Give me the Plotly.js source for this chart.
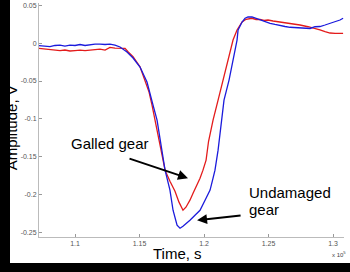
<!DOCTYPE html>
<html>
<head>
<meta charset="utf-8">
<script src="https://cdn.plot.ly/plotly-3.0.1.min.js"></script>
<style>
html,body{margin:0;padding:0;background:#000;width:350px;height:272px;overflow:hidden;}
#chart{position:absolute;left:10px;top:0;width:340px;height:263px;background:#fff;}
</style>
</head>
<body>
<div id="chart"></div>
<script>
// Time (x 10^5 s) and amplitude (V)
var undamagedTime = [1.0721,1.0767,1.0806,1.0845,1.0884,1.0922,1.0961,1.1000,1.1039,1.1078,1.1116,1.1155,1.1194,1.1233,1.1271,1.1310,1.1349,1.1403,1.1450,1.1504,1.1558,1.1581,1.1605,1.1636,1.1659,1.1682,1.1698,1.1736,1.1760,1.1791,1.1814,1.1837,1.1868,1.1891,1.1930,1.1969,1.2008,1.2047,1.2070,1.2085,1.2109,1.2124,1.2140,1.2155,1.2194,1.2225,1.2256,1.2264,1.2295,1.2318,1.2341,1.2372,1.2403,1.2434,1.2473,1.2512,1.2550,1.2589,1.2628,1.2667,1.2705,1.2744,1.2783,1.2822,1.2860,1.2899,1.2938,1.2977,1.3016,1.3054,1.3078];
var undamagedAmp = [-0.0033,-0.0044,-0.0046,-0.0030,-0.0024,-0.0037,-0.0024,-0.0030,-0.0017,-0.0030,-0.0017,-0.0011,-0.0011,-0.0017,-0.0011,-0.0024,-0.0050,-0.0117,-0.0196,-0.0315,-0.0514,-0.0646,-0.0818,-0.1017,-0.1282,-0.1507,-0.1679,-0.1943,-0.2209,-0.2408,-0.2447,-0.2421,-0.2381,-0.2341,-0.2275,-0.2209,-0.2076,-0.1943,-0.1785,-0.1679,-0.1414,-0.1215,-0.1017,-0.0752,-0.0487,-0.0222,0.0042,0.0175,0.0281,0.0330,0.0347,0.0347,0.0327,0.0307,0.0287,0.0263,0.0248,0.0232,0.0221,0.0211,0.0208,0.0197,0.0201,0.0195,0.0218,0.0221,0.0241,0.0261,0.0285,0.0307,0.0330];

var galledTime = [1.0721,1.0767,1.0806,1.0845,1.0884,1.0922,1.0961,1.1000,1.1039,1.1078,1.1116,1.1155,1.1194,1.1233,1.1271,1.1310,1.1349,1.1388,1.1411,1.1450,1.1504,1.1550,1.1574,1.1597,1.1620,1.1651,1.1682,1.1698,1.1736,1.1775,1.1806,1.1837,1.1860,1.1891,1.1915,1.1946,1.1969,1.1992,1.2016,1.2035,1.2070,1.2109,1.2147,1.2186,1.2225,1.2256,1.2295,1.2326,1.2372,1.2403,1.2434,1.2465,1.2496,1.2535,1.2574,1.2620,1.2667,1.2705,1.2744,1.2806,1.2860,1.2899,1.2938,1.2977,1.3016,1.3078];
var galledAmp = [-0.0068,-0.0077,-0.0090,-0.0097,-0.0099,-0.0090,-0.0103,-0.0097,-0.0090,-0.0097,-0.0090,-0.0083,-0.0077,-0.0090,-0.0054,-0.0064,-0.0068,-0.0068,-0.0113,-0.0179,-0.0311,-0.0514,-0.0646,-0.0818,-0.1017,-0.1282,-0.1507,-0.1679,-0.1825,-0.1957,-0.2102,-0.2209,-0.2169,-0.2076,-0.1983,-0.1877,-0.1785,-0.1679,-0.1546,-0.1300,-0.1017,-0.0752,-0.0487,-0.0222,0.0042,0.0175,0.0281,0.0316,0.0330,0.0314,0.0316,0.0301,0.0307,0.0294,0.0285,0.0267,0.0254,0.0248,0.0241,0.0218,0.0197,0.0175,0.0152,0.0135,0.0131,0.0131];

var xTicks = [1.1, 1.15, 1.2, 1.25, 1.3];
var xTickText = ['1.1', '1.15', '1.2', '1.25', '1.3'];
var yTicks = [0.05, 0, -0.05, -0.1, -0.15, -0.2, -0.25];
var yTickText = ['0.05', '0', '-0.05', '-0.1', '-0.15', '-0.2', '-0.25'];

var font = 'Arial, "Liberation Sans", sans-serif';

var traces = [
  {x: galledTime, y: galledAmp, type: 'scatter', mode: 'lines', name: 'Galled gear',
   line: {color: '#e31b1b', width: 1.3}},
  {x: undamagedTime, y: undamagedAmp, type: 'scatter', mode: 'lines', name: 'Undamaged gear',
   line: {color: '#1b1bdc', width: 1.3}}
];

var axisCommon = {
  showgrid: false, zeroline: false, showline: true, linecolor: '#bbbbbb', linewidth: 1,
  ticks: 'inside', ticklen: 3, tickcolor: '#999999', tickwidth: 1,
  tickfont: {family: font, size: 7, color: '#555555'}, tickmode: 'array'
};

var layout = {
  width: 340, height: 263,
  margin: {l: 29, r: 6, t: 3, b: 26},
  paper_bgcolor: '#ffffff', plot_bgcolor: '#ffffff',
  showlegend: false,
  xaxis: Object.assign({}, axisCommon, {range: [1.0721, 1.3085], tickvals: xTicks, ticktext: xTickText}),
  yaxis: Object.assign({}, axisCommon, {range: [-0.2563, 0.0532], tickvals: yTicks, ticktext: yTickText}),
  annotations: [
    {xref: 'paper', yref: 'paper', x: 0.4557, y: -0.0718, text: 'Time, s', showarrow: false,
     xanchor: 'center', yanchor: 'middle', font: {family: font, size: 15, color: '#000'}},
    {xref: 'paper', yref: 'paper', x: -0.0908, y: 0.4658, text: 'Amplitude, V', showarrow: false,
     textangle: -90, xanchor: 'center', yanchor: 'middle', font: {family: font, size: 15, color: '#000'}},
    {xref: 'paper', yref: 'paper', x: 0.984, y: -0.0726, text: 'x 10<sup>5</sup>', showarrow: false,
     xanchor: 'center', yanchor: 'middle', font: {family: font, size: 6, color: '#444'}},
    {xref: 'x', yref: 'y', x: 1.1275, y: -0.1325, text: 'Galled gear', showarrow: false,
     xanchor: 'center', yanchor: 'middle', font: {family: font, size: 15, color: '#000'}},
    {xref: 'x', yref: 'y', x: 1.2333, y: -0.1972, text: 'Undamaged', showarrow: false,
     xanchor: 'left', yanchor: 'middle', font: {family: font, size: 15, color: '#000'}},
    {xref: 'x', yref: 'y', x: 1.2333, y: -0.2196, text: 'gear', showarrow: false,
     xanchor: 'left', yanchor: 'middle', font: {family: font, size: 15, color: '#000'}},
    {xref: 'x', yref: 'y', x: 1.1876, y: -0.1785, axref: 'x', ayref: 'y', ax: 1.1411, ay: -0.152,
     text: '', showarrow: true, arrowhead: 2, arrowsize: 1, arrowwidth: 2, arrowcolor: '#000', standoff: 0},
    {xref: 'x', yref: 'y', x: 1.1946, y: -0.2341, axref: 'x', ayref: 'y', ax: 1.2295, ay: -0.2275,
     text: '', showarrow: true, arrowhead: 2, arrowsize: 1, arrowwidth: 2, arrowcolor: '#000', standoff: 0}
  ]
};

Plotly.newPlot('chart', traces, layout, {displayModeBar: false, staticPlot: true});
</script>
</body>
</html>
